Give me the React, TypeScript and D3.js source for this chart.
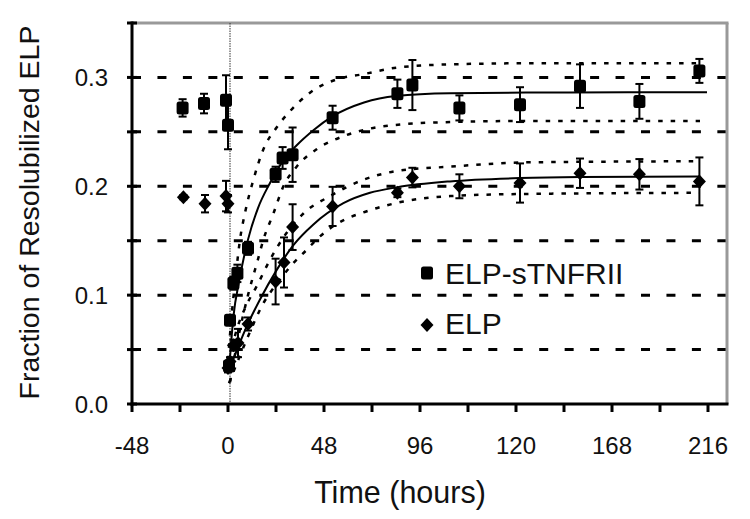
import React from "react";
import * as d3 from "d3";

// ---- data (x in axis units; labels below are the printed ones) ----
const xTickValues = [-48, 0, 48, 96, 144, 192, 240];
const xTickLabels = ["-48", "0", "48", "96", "120", "168", "216"];
const xMinorTicks = [-48, -24, 0, 24, 48, 72, 96, 120, 144, 168, 192, 216, 240];
const yTickValues = [0, 0.05, 0.1, 0.15, 0.2, 0.25, 0.3, 0.35];
const yLabelValues = [0, 0.1, 0.2, 0.3];
const gridValues = [0.05, 0.1, 0.15, 0.2, 0.25, 0.3];

const sqTime = [-22.7, -12, -1, 0, 0.5, 1, 2.7, 4.7, 10, 23.8, 27.3, 32.3, 52.3, 84.7, 92.2, 115.7, 146, 176, 205.7, 235.7];
const sqValue = [0.272, 0.276, 0.279, 0.256, 0.035, 0.077, 0.111, 0.12, 0.143, 0.211, 0.226, 0.229, 0.263, 0.285, 0.293, 0.272, 0.275, 0.292, 0.278, 0.306];
const sqError = [0.008, 0.009, 0.023, 0.022, 0.004, 0.004, 0.006, 0.008, 0.006, 0.007, 0.01, 0.025, 0.011, 0.013, 0.023, 0.0115, 0.016, 0.02, 0.016, 0.011];

const dmTime = [-22.3, -11.5, -1, 0, 0, 1, 2.7, 5, 10, 23.8, 28, 32.3, 52.3, 84.7, 92.2, 115.7, 146, 176, 205.7, 235.7];
const dmValue = [0.19, 0.184, 0.191, 0.184, 0.033, 0.039, 0.054, 0.056, 0.0735, 0.1125, 0.13, 0.1625, 0.1815, 0.194, 0.208, 0.2, 0.203, 0.212, 0.211, 0.2045];
const dmError = [0.002, 0.008, 0.014, 0.008, 0.004, 0.004, 0.005, 0.013, 0.006, 0.021, 0.023, 0.021, 0.018, 0.004, 0.009, 0.011, 0.018, 0.0135, 0.014, 0.022];

const sqFitT = [0.5, 2.7, 5.7, 10, 15, 21, 27, 34, 43, 52, 68, 84, 111, 150, 200, 239.5];
const sqFitV = [0.03, 0.08, 0.114, 0.151, 0.18, 0.203, 0.222, 0.237, 0.252, 0.264, 0.277, 0.283, 0.2855, 0.2861, 0.2863, 0.2863];
const sqUpT = [0, 2, 4, 6, 8.5, 12.7, 17.7, 24.3, 31, 41, 54, 67.7, 84.3, 111, 150, 236];
const sqUpV = [0.04, 0.085, 0.12, 0.151, 0.1755, 0.206, 0.234, 0.254, 0.269, 0.286, 0.298, 0.303, 0.309, 0.312, 0.313, 0.313];
const sqLoT = [1, 5, 10, 15, 17.7, 22.7, 27.7, 34.3, 44.3, 57.7, 71, 87.7, 111, 150, 236];
const sqLoV = [0.02, 0.06, 0.1, 0.133, 0.151, 0.175, 0.2, 0.218, 0.234, 0.246, 0.253, 0.257, 0.259, 0.26, 0.26];

const dmFitT = [0.5, 5, 9.3, 16, 24.3, 32.7, 42.7, 57.7, 71, 84.3, 111, 146, 176, 236];
const dmFitV = [0.031, 0.052, 0.071, 0.096, 0.123, 0.146, 0.165, 0.1845, 0.194, 0.199, 0.2045, 0.2075, 0.2085, 0.209];
const dmUpT = [0.5, 4.3, 9, 14.3, 21, 27.7, 37.7, 51, 67.7, 84.3, 111, 150, 236];
const dmUpV = [0.04, 0.068, 0.09, 0.108, 0.1325, 0.153, 0.175, 0.191, 0.206, 0.214, 0.218, 0.222, 0.223];
const dmLoT = [0.5, 5, 10, 17.7, 25, 32, 39, 46, 54, 71, 87.7, 111, 150, 236];
const dmLoV = [0.019, 0.04, 0.062, 0.0926, 0.112, 0.128, 0.141, 0.154, 0.165, 0.178, 0.186, 0.191, 0.193, 0.194];

const refLineT = 1;

const FONT = "'Liberation Sans', Arial, Helvetica, sans-serif";

export default function App() {
  const W = 750, H = 519;
  const left = 132, right = 727, top = 23, bottom = 404;
  const x = d3.scaleLinear().domain([-48, 249.5]).range([left, right]);
  const y = d3.scaleLinear().domain([0, 0.35]).range([bottom, top]);

  const line = d3
    .line<[number, number]>()
    .x((d) => x(d[0]))
    .y((d) => y(d[1]))
    .curve(d3.curveMonotoneX);
  const zip = (a: number[], b: number[]) => a.map((t, i) => [t, b[i]] as [number, number]);

  const curves = [
    { d: line(zip(sqFitT, sqFitV)), dotted: false },
    { d: line(zip(sqUpT, sqUpV)), dotted: true },
    { d: line(zip(sqLoT, sqLoV)), dotted: true },
    { d: line(zip(dmFitT, dmFitV)), dotted: false },
    { d: line(zip(dmUpT, dmUpV)), dotted: true },
    { d: line(zip(dmLoT, dmLoV)), dotted: true },
  ];

  const errBars = (ts: number[], vs: number[], es: number[], key: string) =>
    ts.map((t, i) => {
      const cx = x(t);
      const y1 = y(vs[i] + es[i]);
      const y2 = y(vs[i] - es[i]);
      return (
        <g key={key + i} stroke="#000" strokeWidth={2}>
          <line x1={cx} x2={cx} y1={y1} y2={y2} />
          <line x1={cx - 4} x2={cx + 4} y1={y1} y2={y1} />
          <line x1={cx - 4} x2={cx + 4} y1={y2} y2={y2} />
        </g>
      );
    });

  const square = (cx: number, cy: number, key: string) => (
    <rect key={key} x={cx - 6} y={cy - 6.5} width={12} height={13} rx={2.5} fill="#000" />
  );
  const diamond = (cx: number, cy: number, key: string) => (
    <path key={key} d={`M${cx},${cy - 7}L${cx + 6.5},${cy}L${cx},${cy + 7}L${cx - 6.5},${cy}Z`} fill="#000" />
  );

  return (
    <svg
      width={W}
      height={H}
      viewBox={`0 0 ${W} ${H}`}
      style={{ position: "absolute", left: 0, top: 0, background: "#fff" }}
      fontFamily={FONT}
    >
      <rect x={0} y={0} width={W} height={H} fill="#fff" />
      {/* gridlines */}
      {gridValues.map((v) => (
        <line
          key={"g" + v}
          x1={left}
          x2={right}
          y1={y(v)}
          y2={y(v)}
          stroke="#000"
          strokeWidth={3}
          strokeDasharray="9 16.45"
        />
      ))}
      {/* frame top/right */}
      <line x1={left} x2={right + 1.5} y1={top} y2={top} stroke="#999" strokeWidth={3} />
      <line x1={right} x2={right} y1={top} y2={bottom} stroke="#999" strokeWidth={3} />
      {/* reference vertical line */}
      <line x1={x(refLineT)} x2={x(refLineT)} y1={top} y2={bottom} stroke="#333" strokeWidth={1} strokeDasharray="1.5 1" />
      {/* curves */}
      {curves.map((c, i) => (
        <path
          key={"c" + i}
          d={c.d || ""}
          fill="none"
          stroke="#000"
          strokeWidth={c.dotted ? 2.5 : 2}
          strokeDasharray={c.dotted ? "4.5 8" : undefined}
        />
      ))}
      {/* error bars */}
      {errBars(sqTime, sqValue, sqError, "se")}
      {errBars(dmTime, dmValue, dmError, "de")}
      {/* markers */}
      {sqTime.map((t, i) => square(x(t), y(sqValue[i]), "s" + i))}
      {dmTime.map((t, i) => diamond(x(t), y(dmValue[i]), "d" + i))}
      {/* axes */}
      <line x1={left} x2={left} y1={top - 1.5} y2={bottom + 1.5} stroke="#000" strokeWidth={3} />
      <line x1={left - 1.5} x2={right + 1.5} y1={bottom} y2={bottom} stroke="#000" strokeWidth={3} />
      {yTickValues.map((v) => (
        <line key={"yt" + v} x1={left - 5} x2={left + 5} y1={y(v)} y2={y(v)} stroke="#000" strokeWidth={3} />
      ))}
      {yLabelValues.map((v) => (
        <text key={"yl" + v} x={108} y={y(v)} dy="0.36em" textAnchor="end" fontSize={24} fill="#111">
          {d3.format(".1f")(v)}
        </text>
      ))}
      {xMinorTicks.map((t) => (
        <line key={"xt" + t} x1={x(t)} x2={x(t)} y1={bottom} y2={bottom + 8} stroke="#000" strokeWidth={3} />
      ))}
      {xTickValues.map((t, i) => (
        <text key={"xl" + t} x={x(t)} y={454} textAnchor="middle" fontSize={24} fill="#111">
          {xTickLabels[i]}
        </text>
      ))}
      {/* axis titles */}
      <text x={400} y={503} textAnchor="middle" fontSize={30.5} fill="#111">
        Time (hours)
      </text>
      <text transform="translate(38.5,212.5) rotate(-90)" textAnchor="middle" fontSize={28.5} fill="#111">
        Fraction of Resolubilized ELP
      </text>
      {/* legend */}
      {square(427, 273, "lgs")}
      <text x={445} y={283.5} fontSize={30} fill="#111">
        ELP-sTNFRII
      </text>
      {diamond(427, 325, "lgd")}
      <text x={445} y={333.5} fontSize={30} fill="#111">
        ELP
      </text>
    </svg>
  );
}
